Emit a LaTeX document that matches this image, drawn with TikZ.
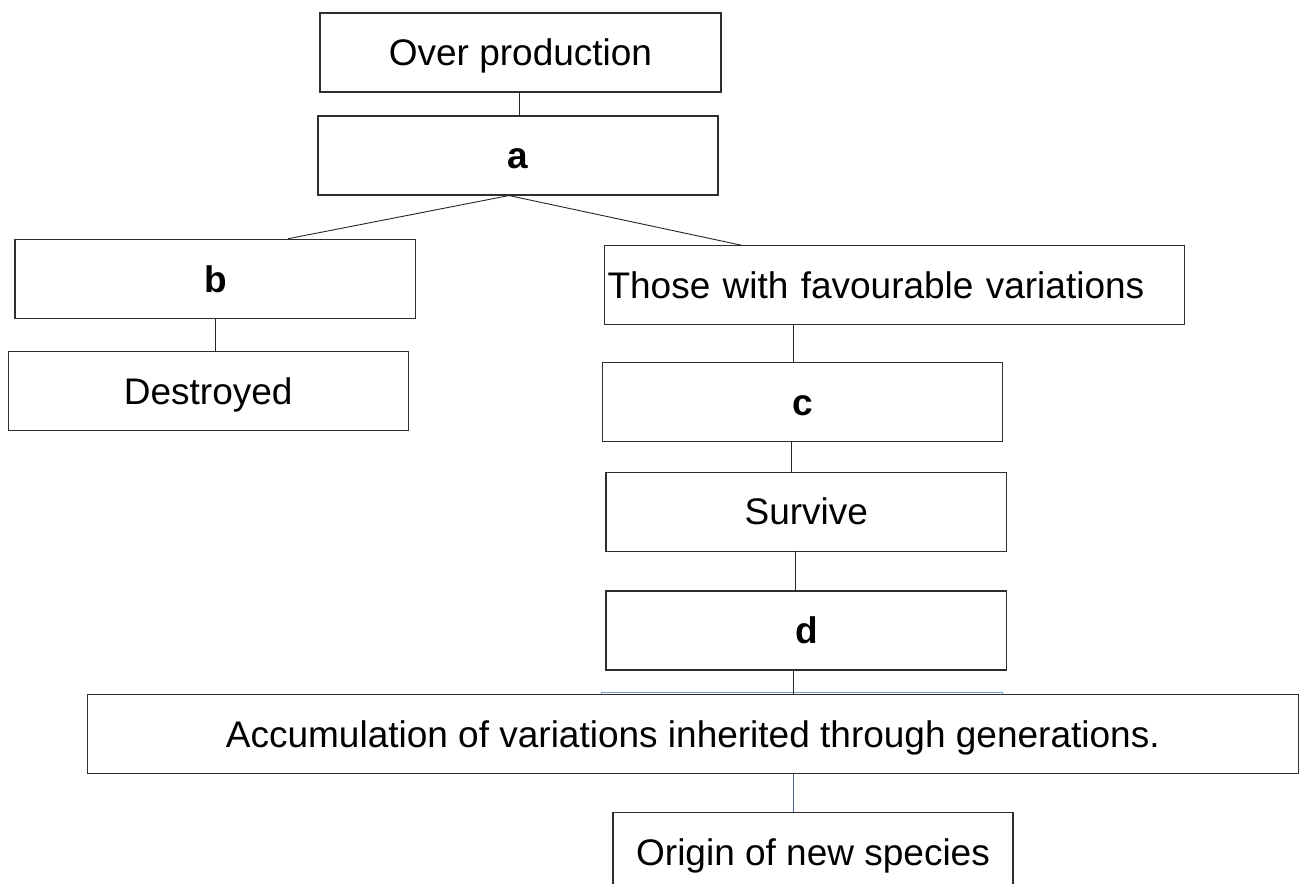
\documentclass[tikz,border=0pt]{standalone}
\usepackage{fontspec}
\setmainfont{Liberation Sans}
\usetikzlibrary{calc}
\definecolor{boxline}{RGB}{45,45,45}
\definecolor{hidblue}{RGB}{114,159,207}
\definecolor{connblue}{RGB}{70,100,145}
\begin{document}
\begin{tikzpicture}[x=1pt,y=-1pt,
  box/.style={draw=boxline,line width=1.1pt,fill=white,inner sep=0pt,
    minimum height=79pt,text height=26.5pt,text depth=0pt,
    font=\fontsize{37}{44}\selectfont},
  conn/.style={line width=0.9pt,draw=black!85}]
\path[use as bounding box, clip] (0,0) rectangle (1303,883);
\fill[white] (0,0) rectangle (1303,883);

\node[box,minimum width=401pt] (over) at (520.5,52.5) {Over production};
\node[box,minimum width=400pt] (a) at (518,155.5) {\textbf{a}};
\node[box,minimum width=400.7pt] (b) at (215.3,278.8) {\textbf{b}};
\node[box,minimum width=399.7pt] (dest) at (208.2,390.9) {Destroyed};
\node[box,inner xsep=3pt,text width=574pt,align=left] (those) at (894.5,285.4) {Those with favourable variations};
\node[box,minimum width=399.7pt] (c) at (802.6,401.8) {\textbf{c}};
\node[box,minimum width=400.7pt] (surv) at (806.3,511.7) {Survive};
\node[box,minimum width=400.7pt] (d) at (806.3,630.5) {\textbf{d}};
\node[draw=hidblue,line width=1pt,fill=white,inner sep=0pt,minimum width=400.6pt,minimum height=79pt] (hid) at (802,732) {};
\node[box,minimum width=1211pt] (acc) at (692.8,733.8) {Accumulation of variations inherited through generations.};
\node[box,minimum width=400pt] (origin) at (813,852.2) {Origin of new species};

\draw[conn] ($(over.south)+(-1.5,0)$) -- ($(a.north)+(1,0)$);
\draw[conn] ($(a.south)+(-9,0)$) -- ($(b.north)+(72.7,0)$);
\draw[conn] ($(a.south)+(-9,0)$) -- ($(those.north)+(-152.5,0)$);
\draw[conn] (b.south) -- ($(dest.north)+(7.1,0)$);
\draw[conn] ($(those.south)+(-101,0)$) -- ($(c.north)+(-9.1,0)$);
\draw[conn] ($(c.south)+(-11.6,0)$) -- ($(surv.north)+(-15.3,0)$);
\draw[conn] ($(surv.south)+(-10.6,0)$) -- ($(d.north)+(-10.6,0)$);
\draw[conn] ($(d.south)+(-13,0)$) -- ($(acc.north)+(100.5,0)$);
\draw[conn,draw=connblue] ($(acc.south)+(100.2,0)$) -- ($(origin.north)+(-20,0)$);
\end{tikzpicture}
\end{document}
